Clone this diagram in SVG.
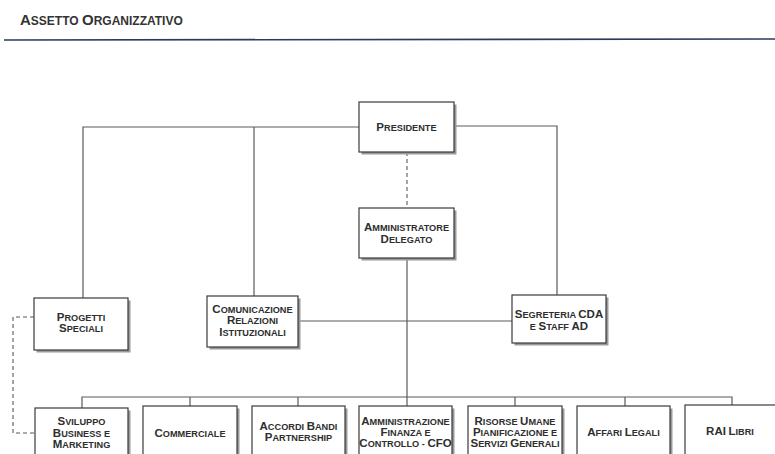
<svg xmlns="http://www.w3.org/2000/svg" width="775" height="454" viewBox="0 0 775 454">
<style>
.bg{fill:#ffffff}
.sh{fill:#9a9a9a}
.bx{fill:#ffffff;stroke:#3a3a3a;stroke-width:1.2}
.t{font-family:"Liberation Sans Narrow","Liberation Sans",Arial,sans-serif;font-weight:bold;font-size:9.2px;fill:#2e2e2e;text-anchor:middle}
.L{font-size:11.5px}
.ln{fill:none;stroke:#5a5a5a;stroke-width:1.2}
.dash{fill:none;stroke:#5a5a5a;stroke-width:1.1;stroke-dasharray:4 3}
.title{font-family:"Liberation Sans Narrow","Liberation Sans",Arial,sans-serif;font-weight:bold;font-size:12px;fill:#333}
.TL{font-size:15px}
</style>
<rect class="bg" x="0" y="0" width="775" height="454"/>
<text class="title" x="20" y="25"><tspan class="TL">A</tspan>SSETTO <tspan class="TL">O</tspan>RGANIZZATIVO</text>
<line x1="4" y1="40" x2="775" y2="39" stroke="#2b3a5e" stroke-width="1.6"/>

<g id="connectors">
<path class="ln" d="M83,298 V127 H359"/>
<path class="ln" d="M254,127 V296"/>
<path class="ln" d="M454,126 H557 V295"/>
<path class="dash" d="M407,152 V208"/>
<path class="ln" d="M407,258 V406"/>
<path class="ln" d="M298,321 H512"/>
<path class="ln" d="M82,408 V397 H732 V405"/>
<path class="ln" d="M190,397 V406 M298,397 V406 M515,397 V406 M625,397 V406"/>
<path class="dash" d="M34,317 H13 V433 H35"/>
</g>

<g id="presidente">
<rect class="sh" x="361.5" y="104.5" width="95" height="50"/>
<rect class="bx" x="359" y="102" width="95" height="50"/>
<text class="t" x="406.5" y="131"><tspan class="L">P</tspan>RESIDENTE</text>
</g>
<g id="amministratore-delegato">
<rect class="sh" x="361.5" y="210.5" width="95" height="50"/>
<rect class="bx" x="359" y="208" width="95" height="50"/>
<text class="t" x="406.5" y="231"><tspan class="L">A</tspan>MMINISTRATORE</text>
<text class="t" x="406.5" y="243"><tspan class="L">D</tspan>ELEGATO</text>
</g>
<g id="progetti-speciali">
<rect class="sh" x="36.5" y="300.5" width="94" height="52"/>
<rect class="bx" x="34" y="298" width="94" height="52"/>
<text class="t" x="81" y="321"><tspan class="L">P</tspan>ROGETTI</text>
<text class="t" x="81" y="332"><tspan class="L">S</tspan>PECIALI</text>
</g>
<g id="comunicazione">
<rect class="sh" x="209.5" y="298.5" width="91" height="51"/>
<rect class="bx" x="207" y="296" width="91" height="51"/>
<text class="t" x="252.5" y="313"><tspan class="L">C</tspan>OMUNICAZIONE</text>
<text class="t" x="252.5" y="324"><tspan class="L">R</tspan>ELAZIONI</text>
<text class="t" x="252.5" y="336"><tspan class="L">I</tspan>STITUZIONALI</text>
</g>
<g id="segreteria">
<rect class="sh" x="514.5" y="297.5" width="94" height="48"/>
<rect class="bx" x="512" y="295" width="94" height="48"/>
<text class="t" x="559" y="318"><tspan class="L">S</tspan>EGRETERIA <tspan class="L">CDA</tspan></text>
<text class="t" x="559" y="330">E <tspan class="L">S</tspan>TAFF <tspan class="L">AD</tspan></text>
</g>

<g id="sviluppo">
<rect class="sh" x="37.5" y="410.5" width="93" height="52"/>
<rect class="bx" x="35" y="408" width="93" height="52"/>
<text class="t" x="81.5" y="425"><tspan class="L">S</tspan>VILUPPO</text>
<text class="t" x="81.5" y="437"><tspan class="L">B</tspan>USINESS E</text>
<text class="t" x="81.5" y="448"><tspan class="L">M</tspan>ARKETING</text>
</g>
<g id="commerciale">
<rect class="sh" x="145.5" y="408.5" width="94" height="52"/>
<rect class="bx" x="143" y="406" width="94" height="52"/>
<text class="t" x="190" y="437"><tspan class="L">C</tspan>OMMERCIALE</text>
</g>
<g id="accordi">
<rect class="sh" x="254.5" y="408.5" width="93" height="52"/>
<rect class="bx" x="252" y="406" width="93" height="52"/>
<text class="t" x="298.5" y="430"><tspan class="L">A</tspan>CCORDI <tspan class="L">B</tspan>ANDI</text>
<text class="t" x="298.5" y="441"><tspan class="L">P</tspan>ARTNERSHIP</text>
</g>
<g id="amministrazione">
<rect class="sh" x="361.5" y="408.5" width="93" height="52"/>
<rect class="bx" x="359" y="406" width="93" height="52"/>
<text class="t" x="405.5" y="425"><tspan class="L">A</tspan>MMINISTRAZIONE</text>
<text class="t" x="405.5" y="436"><tspan class="L">F</tspan>INANZA E</text>
<text class="t" x="405.5" y="447"><tspan class="L">C</tspan>ONTROLLO - <tspan class="L">CFO</tspan></text>
</g>
<g id="risorse-umane">
<rect class="sh" x="470.5" y="408.5" width="94" height="52"/>
<rect class="bx" x="468" y="406" width="94" height="52"/>
<text class="t" x="515" y="425"><tspan class="L">R</tspan>ISORSE <tspan class="L">U</tspan>MANE</text>
<text class="t" x="515" y="436"><tspan class="L">P</tspan>IANIFICAZIONE E</text>
<text class="t" x="515" y="447"><tspan class="L">S</tspan>ERVIZI <tspan class="L">G</tspan>ENERALI</text>
</g>
<g id="affari-legali">
<rect class="sh" x="579.5" y="408.5" width="93" height="52"/>
<rect class="bx" x="577" y="406" width="93" height="52"/>
<text class="t" x="623.5" y="436"><tspan class="L">A</tspan>FFARI <tspan class="L">L</tspan>EGALI</text>
</g>
<g id="rai-libri">
<rect class="sh" x="687.5" y="407.5" width="95" height="52"/>
<rect class="bx" x="685" y="405" width="95" height="52"/>
<text class="t" x="730" y="435"><tspan class="L">RAI</tspan> <tspan class="L">L</tspan>IBRI</text>
</g>
</svg>
